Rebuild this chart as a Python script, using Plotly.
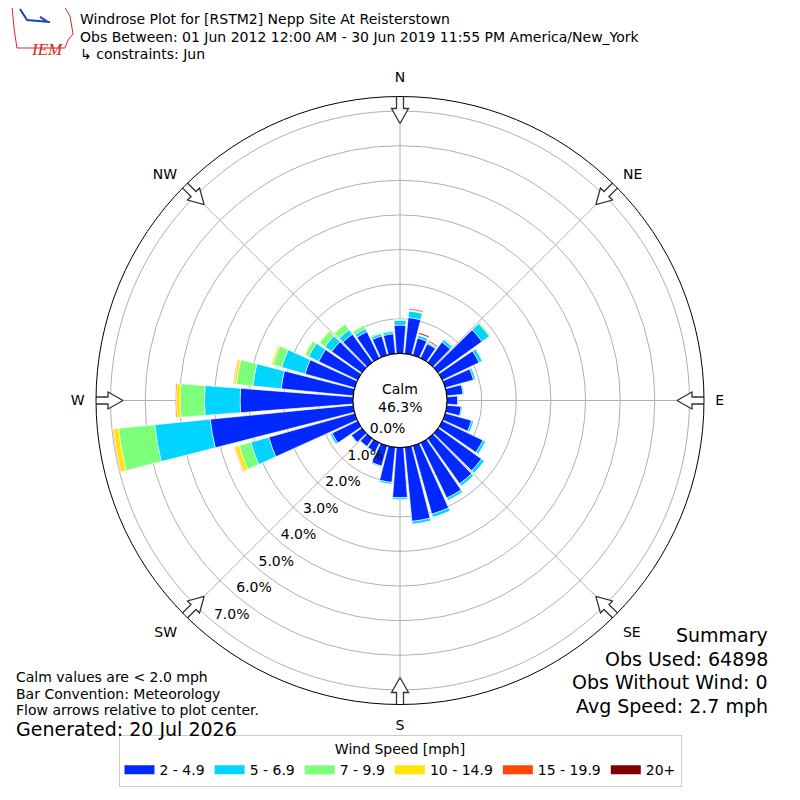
import math
import plotly.graph_objects as go

# wind directions (deg, meteorological) and frequency (%) per speed bin
directions = [0, 10, 20, 30, 40, 50, 60, 70, 80, 90, 100, 110,
              120, 130, 140, 150, 160, 170, 180, 190, 200, 210, 220, 230,
              240, 250, 260, 270, 280, 290, 300, 310, 320, 330, 340, 350]

speed_bins = ["2 - 4.9", "5 - 6.9", "7 - 9.9", "10 - 14.9", "15 - 19.9", "20+"]
bin_colors = ["#0028ff", "#00d4ff", "#7cff79", "#ffe600", "#ff4700", "#7f0000"]

bin_2_5 = [0.82, 1.05, 0.52, 0.46, 0.72, 1.56, 1.18, 0.85, 0.47, 0.31, 0.42, 0.79,
           1.30, 1.54, 1.60, 1.77, 2.05, 2.15, 1.45, 1.02, 0.61, 0.29, 0.28, 0.37,
           0.82, 2.58, 4.15, 3.26, 2.09, 1.49, 1.25, 1.07, 1.00, 0.85, 0.58, 0.58]
bin_5_7 = [0.14, 0.19, 0.08, 0.04, 0.09, 0.26, 0.10, 0.06, 0.03, 0.02, 0.03, 0.06,
           0.08, 0.10, 0.08, 0.08, 0.10, 0.08, 0.05, 0.05, 0.03, 0.02, 0.02, 0.02,
           0.06, 0.54, 1.61, 1.03, 0.82, 0.70, 0.32, 0.24, 0.16, 0.10, 0.07, 0.07]
bin_7_10 = [0.03, 0.02, 0.02, 0.01, 0.02, 0.04, 0.02, 0.0, 0.0, 0.0, 0.0, 0.0,
            0.0, 0.0, 0.0, 0.01, 0.01, 0.0, 0.0, 0.0, 0.0, 0.0, 0.0, 0.0,
            0.0, 0.35, 1.05, 0.70, 0.48, 0.26, 0.12, 0.19, 0.20, 0.10, 0.04, 0.03]
bin_10_15 = [0.0, 0.01, 0.01, 0.005, 0.0, 0.01, 0.0, 0.0, 0.0, 0.0, 0.0, 0.0,
             0.0, 0.0, 0.0, 0.0, 0.0, 0.0, 0.0, 0.0, 0.0, 0.0, 0.0, 0.0,
             0.0, 0.12, 0.15, 0.11, 0.07, 0.05, 0.02, 0.02, 0.02, 0.02, 0.0, 0.0]
bin_15_20 = [0.0, 0.01, 0.01, 0.01, 0.01, 0.0, 0.0, 0.0, 0.0, 0.0, 0.0, 0.0,
             0.0, 0.0, 0.0, 0.0, 0.0, 0.0, 0.0, 0.0, 0.0, 0.0, 0.0, 0.0,
             0.0, 0.02, 0.02, 0.03, 0.02, 0.0, 0.0, 0.0, 0.0, 0.0, 0.0, 0.0]
bin_20p = [0.0, 0.03, 0.04, 0.03, 0.01, 0.0, 0.0, 0.0, 0.0, 0.0, 0.0, 0.0,
           0.0, 0.0, 0.0, 0.0, 0.0, 0.0, 0.0, 0.0, 0.0, 0.0, 0.0, 0.0,
           0.0, 0.0, 0.0, 0.0, 0.0, 0.0, 0.0, 0.0, 0.0, 0.0, 0.0, 0.0]

compass_angles = [0, 45, 90, 135, 180, 225, 270, 315]
compass_labels = ["N", "NE", "E", "SE", "S", "SW", "W", "NW"]
radial_ticks = [0, 1, 2, 3, 4, 5, 6, 7]
radial_label_dir = 220

calm_pct = 46.3
title_lines = [
    "Windrose Plot for [RSTM2] Nepp Site At Reisterstown",
    "Obs Between: 01 Jun 2012 12:00 AM - 30 Jun 2019 11:55 PM America/New_York",
    "\u21b3 constraints: Jun",
]
notes = ["Calm values are < 2.0 mph", "Bar Convention: Meteorology",
         "Flow arrows relative to plot center."]
generated = "Generated: 20 Jul 2026"
summary = ["Summary", "Obs Used: 64898", "Obs Without Wind: 0", "Avg Speed: 2.7 mph"]

FONT = "DejaVu Sans"
W = H = 800
OFF = 8             # page body margin shifts the figure by this much
R_PX = 304          # outer circle radius in px
HOLE_PX = 47        # calm circle radius in px
RMAX = 7.42
CX, CY = 400 - OFF, 400.5 - OFF

bins = [bin_2_5, bin_5_7, bin_7_10, bin_10_15, bin_15_20, bin_20p]


def px_to_r(px):
    return (px - HOLE_PX) / (R_PX - HOLE_PX) * RMAX


fig = go.Figure()
for name, color, vals in zip(speed_bins, bin_colors, bins):
    fig.add_trace(go.Barpolar(
        r=vals, theta=directions, name=name, width=8.7, showlegend=False,
        marker=dict(color=color, line=dict(color="white", width=0.6)),
    ))

# black rim around the calm circle
rim = list(range(0, 361, 2))
fig.add_trace(go.Scatterpolar(
    r=[0] * len(rim), theta=rim, mode="lines",
    line=dict(color="black", width=1.2), showlegend=False, hoverinfo="skip",
))

# radial percentage labels (matplotlib style: left/bottom anchored)
fig.add_trace(go.Scatterpolar(
    r=radial_ticks, theta=[radial_label_dir] * len(radial_ticks), mode="text",
    text=[f"{v:.1f}%" for v in radial_ticks], textposition="top right",
    textfont=dict(family=FONT, size=14, color="black"),
    showlegend=False, hoverinfo="skip", cliponaxis=False,
))

# block arrows pointing at plot center, one per compass label
arrow_shape = [(307, -3.5), (292, -3.5), (292, -8.5), (277, 0), (292, 8.5),
               (292, 3.5), (307, 3.5), (307, -3.5)]
for ang in compass_angles:
    rr, tt = [], []
    for a, p in arrow_shape:
        rr.append(px_to_r(math.hypot(a, p)))
        tt.append(ang + math.degrees(math.atan2(p, a)))
    fig.add_trace(go.Scatterpolar(
        r=rr, theta=tt, mode="lines", fill="toself", fillcolor="white",
        line=dict(color="#333333", width=1.3), showlegend=False,
        hoverinfo="skip", cliponaxis=False,
    ))

# legend entries drawn as wide colour patches
for name, color in zip(speed_bins, bin_colors):
    fig.add_trace(go.Scatterpolar(
        r=[None], theta=[None], mode="lines", name=name,
        line=dict(color=color, width=9), hoverinfo="skip",
    ))

fig.update_layout(
    width=W, height=H,
    paper_bgcolor="white", plot_bgcolor="white",
    font=dict(family=FONT, size=14, color="black"),
    margin=dict(l=0, r=0, t=0, b=0),
    polar=dict(
        domain=dict(x=[(CX - R_PX) / W, (CX + R_PX) / W],
                    y=[(H - CY - R_PX) / H, (H - CY + R_PX) / H]),
        hole=HOLE_PX / R_PX,
        bgcolor="white",
        barmode="stack",
        angularaxis=dict(
            rotation=90, direction="clockwise",
            tickmode="array", tickvals=compass_angles, ticktext=compass_labels,
            showline=True, linecolor="black", linewidth=1,
            gridcolor="#b0b0b0", gridwidth=1,
            ticks="outside", ticklen=8, tickcolor="rgba(0,0,0,0)",
            tickfont=dict(size=14), layer="above traces",
        ),
        radialaxis=dict(
            range=[0, RMAX], tickmode="array", tickvals=radial_ticks,
            showticklabels=False, showline=False,
            gridcolor="#b0b0b0", gridwidth=1, ticks="",
            layer="above traces",
        ),
    ),
    showlegend=True,
    legend=dict(
        orientation="h", x=(400 - OFF) / W, xanchor="center",
        y=(H - 787 + OFF) / H, yanchor="bottom", itemwidth=30,
        bordercolor="#cccccc", borderwidth=1, font=dict(size=14),
        title=dict(text="Wind Speed [mph]", side="top center", font=dict(size=14)),
        traceorder="normal",
    ),
)

annotations = []
for i, line in enumerate(title_lines):
    annotations.append(dict(text=line, x=80, y=19 + i * 17.5))
for i, line in enumerate(notes):
    annotations.append(dict(text=line, x=16, y=677 + i * 16.5))
annotations.append(dict(text=generated, x=16, y=729, size=19))
for i, line in enumerate(summary):
    annotations.append(dict(text=line, x=768, y=635 + i * 23.7, size=19, anchor="right"))
annotations.append(dict(text="Calm", x=400, y=389, anchor="center"))
annotations.append(dict(text=f"{calm_pct:.1f}%", x=400, y=407, anchor="center"))

for a in annotations:
    xa = a.get("anchor", "left")
    shift = {"left": -2, "right": 2, "center": 0}[xa]
    fig.add_annotation(
        text=a["text"], xref="paper", yref="paper",
        x=(a["x"] - OFF + shift) / W, y=1 - (a["y"] - OFF) / H,
        xanchor=xa, yanchor="middle",
        showarrow=False, font=dict(size=a.get("size", 14), family=FONT),
    )


def pp(x, y):
    return f"{(x - OFF) / W:.4f},{1 - (y - OFF) / H:.4f}"


# IEM logo stand-in
fig.add_shape(type="path", xref="paper", yref="paper",
              path=f"M {pp(12, 6)} L {pp(64, 6)} L {pp(70, 16)} L {pp(73, 34)} "
                   f"L {pp(68, 40)} L {pp(65, 48)} L {pp(17, 48)} L {pp(14, 28)} Z",
              line=dict(color="#d62728", width=1))
fig.add_annotation(text="<i>IEM</i>", xref="paper", yref="paper",
                   x=(29 - OFF) / W, y=1 - (38 - OFF) / H,
                   showarrow=False, font=dict(family="Liberation Serif", size=17,
                                              color="#d62728"))
fig.add_shape(type="path", xref="paper", yref="paper",
              path=f"M {pp(20, 9)} L {pp(27, 20)} L {pp(50, 22)} M {pp(40, 17)} L {pp(48, 22)}",
              line=dict(color="#1f3fbf", width=2))

fig.write_html("out.html")
